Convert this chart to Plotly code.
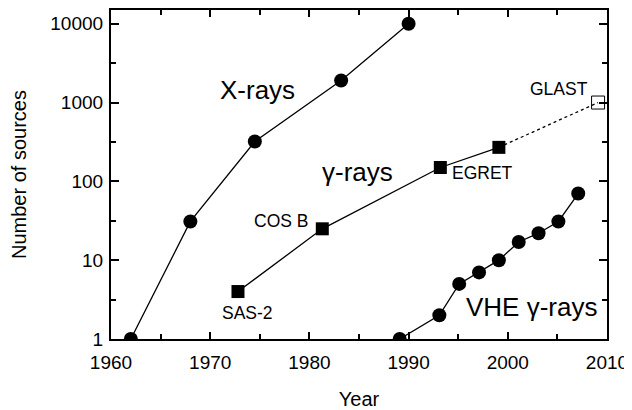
import plotly.graph_objects as go

xray_year = [1962, 1968, 1974.5, 1983.2, 1990]
xray_n = [1, 31, 320, 1900, 10000]

gamma_year = [1972.8, 1981.3, 1993.2, 1999.1]
gamma_n = [4, 25, 150, 270]

glast_year = [1999.1, 2009.1]
glast_n = [270, 1000]

vhe_year = [1989.1, 1993.1, 1995.1, 1997.1, 1999.1, 2001.1, 2003.1, 2005.1, 2007.1]
vhe_n = [1, 2, 5, 7, 10, 17, 22, 31, 70]

y_ticks = [1, 10, 100, 1000, 10000]
y_minor = [3.1623, 31.623, 316.23, 3162.3]
x_ticks = [1960, 1970, 1980, 1990, 2000, 2010]
x_minor = [1965, 1975, 1985, 1995, 2005]

FONT = "Liberation Sans, Arial, sans-serif"

fig = go.Figure()
fig.add_trace(go.Scatter(x=xray_year, y=xray_n, mode="lines+markers",
                         line=dict(color="black", width=1.3),
                         marker=dict(symbol="circle", size=14, color="black")))
fig.add_trace(go.Scatter(x=glast_year, y=glast_n, mode="lines",
                         line=dict(color="black", width=1.3, dash="dot")))
fig.add_trace(go.Scatter(x=glast_year[1:], y=glast_n[1:], mode="markers",
                         marker=dict(symbol="square-open", size=13, color="black",
                                     line=dict(width=1))))
fig.add_trace(go.Scatter(x=gamma_year, y=gamma_n, mode="lines+markers",
                         line=dict(color="black", width=1.3),
                         marker=dict(symbol="square", size=13, color="black")))
fig.add_trace(go.Scatter(x=vhe_year, y=vhe_n, mode="lines+markers",
                         line=dict(color="black", width=1.3),
                         marker=dict(symbol="circle", size=14, color="black")))

big = dict(family=FONT, size=26, color="black")
small = dict(family=FONT, size=17.5, color="black")
# annotation positions: x in years, y in log10 units (log axis)
ann = [
    dict(x=1974.8, y=3.157, text="X-rays", font=big),
    dict(x=1984.8, y=2.113, text="γ-rays", font=big),
    dict(x=2002.4, y=0.40, text="VHE γ-rays", font=big),
    dict(x=2005.2, y=3.17, text="GLAST", font=small),
    dict(x=1997.4, y=2.10, text="EGRET", font=small),
    dict(x=1977.1, y=1.50, text="COS B", font=small),
    dict(x=1973.8, y=0.33, text="SAS-2", font=small),
]
for a in ann:
    fig.add_annotation(x=a["x"], y=a["y"], text=a["text"], font=a["font"],
                       showarrow=False, xref="x", yref="y")

fig.update_layout(
    width=624, height=402,
    margin=dict(l=103, r=25, t=0, b=71),
    paper_bgcolor="white", plot_bgcolor="white",
    showlegend=False,
    font=dict(family=FONT, color="black", size=14),
)
fig.update_xaxes(range=[1960, 2010], tickvals=x_ticks, ticks="inside", ticklen=7,
                 tickwidth=1.5, tickcolor="black", ticklabelstandoff=5,
                 minor=dict(tickvals=x_minor, ticks="inside", ticklen=5, tickwidth=1.5, tickcolor="black"),
                 showline=True, linecolor="black", linewidth=2.2, mirror="ticks",
                 showgrid=False, zeroline=False,
                 tickfont=dict(family=FONT, size=19, color="black"),
                 title=dict(text="Year", font=dict(family=FONT, size=20, color="black"), standoff=20))
fig.update_yaxes(type="log", range=[0, 4.174], tickvals=y_ticks, ticktext=[str(v) for v in y_ticks],
                 ticks="inside", ticklen=8, tickwidth=1.5, tickcolor="black", ticklabelstandoff=2,
                 minor=dict(tickvals=y_minor, ticks="inside", ticklen=5, tickwidth=1.5, tickcolor="black"),
                 showline=True, linecolor="black", linewidth=2.2, mirror="ticks",
                 showgrid=False, zeroline=False,
                 tickfont=dict(family=FONT, size=19, color="black"),
                 title=dict(text="Number of sources", font=dict(family=FONT, size=20, color="black"), standoff=20))

fig.write_html("out.html")
